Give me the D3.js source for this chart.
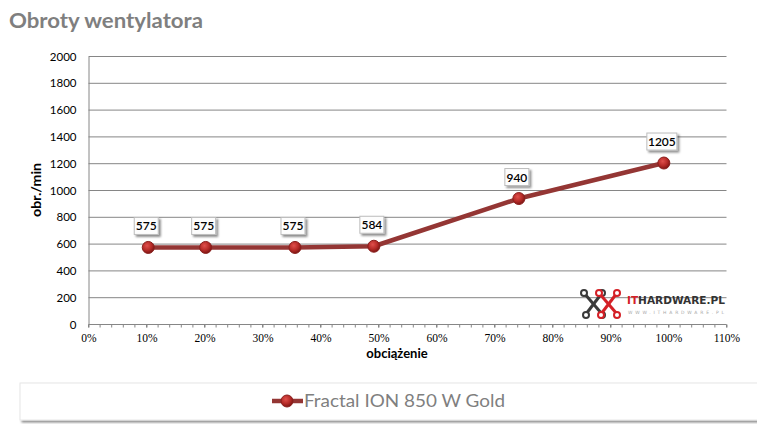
<!DOCTYPE html>
<html lang="pl">
<head>
<meta charset="UTF-8">
<title>Obroty wentylatora</title>
<script src="https://d3js.org/d3.v7.min.js"></script>
<style>
  body { margin: 0; background: #fff; }
</style>
</head>
<body>
<div id="chart"></div>
<script>
// load points (% obciążenia) and fan speed (obr./min)
var loadPct = [10.3, 20.2, 35.6, 49.2, 74.2, 99.2];
var rpm = [575, 575, 575, 584, 940, 1205];
var yTicks = [0, 200, 400, 600, 800, 1000, 1200, 1400, 1600, 1800, 2000];
var xTicks = [0, 10, 20, 30, 40, 50, 60, 70, 80, 90, 100, 110];
var xMinor = d3.range(0, 111, 2);
var seriesName = "Fractal ION 850 W Gold";

var W = 757, H = 424;
var font = "Lato, 'Open Sans', sans-serif";

var svg = d3.select("#chart").append("svg")
    .attr("width", W)
    .attr("height", H);

var defs = svg.append("defs");
var grad = defs.append("radialGradient").attr("id", "dot")
    .attr("cx", "40%").attr("cy", "35%").attr("r", "65%");
grad.append("stop").attr("offset", "0%").attr("stop-color", "#e0504c");
grad.append("stop").attr("offset", "60%").attr("stop-color", "#b52a27");
grad.append("stop").attr("offset", "100%").attr("stop-color", "#7d1614");

var shadow = defs.append("filter").attr("id", "shadow")
    .attr("x", "-30%").attr("y", "-30%").attr("width", "170%").attr("height", "170%");
shadow.append("feDropShadow").attr("dx", 2).attr("dy", 2)
    .attr("stdDeviation", 1.2).attr("flood-color", "#000").attr("flood-opacity", 0.45);

var x = d3.scaleLinear().domain([0, 110]).range([88.5, 726.5]);
var y = d3.scaleLinear().domain([0, 2000]).range([324.5, 56.5]);

// title
svg.append("text")
    .attr("x", 9).attr("y", 28)
    .attr("font-family", font).attr("font-weight", "bold")
    .attr("font-size", "21.5px").attr("fill", "#7f7f7f")
    .attr("textLength", 194).attr("lengthAdjust", "spacingAndGlyphs")
    .text("Obroty wentylatora");

// gridlines
svg.append("g").selectAll("line")
    .data(yTicks.filter(function(d){ return d > 0; }))
    .enter().append("line")
    .attr("x1", x(0)).attr("x2", x(110))
    .attr("y1", function(d){ return y(d); })
    .attr("y2", function(d){ return y(d); })
    .attr("stroke", "#868686");

// y axis
var yAxis = svg.append("g")
    .attr("transform", "translate(" + x(0) + ",0)")
    .call(d3.axisLeft(y).tickValues(yTicks).tickSize(0).tickPadding(12).tickFormat(d3.format("d")));
yAxis.select(".domain").attr("stroke", "#868686");
yAxis.selectAll("text")
    .attr("font-family", font).attr("font-size", "11.5px").attr("fill", "#000");

// x axis minor ticks
svg.append("g").selectAll("line")
    .data(xMinor).enter().append("line")
    .attr("x1", function(d){ return x(d); })
    .attr("x2", function(d){ return x(d); })
    .attr("y1", y(0)).attr("y2", y(0) + 3)
    .attr("stroke", "#868686");

var xAxis = svg.append("g")
    .attr("transform", "translate(0," + y(0) + ")")
    .call(d3.axisBottom(x).tickValues(xTicks).tickSize(3).tickPadding(6)
        .tickFormat(function(d){ return d + "%"; }));
xAxis.select(".domain").attr("stroke", "#868686").attr("d", "M" + x(0) + ",0H" + x(110));
xAxis.selectAll(".tick line").attr("stroke", "#868686");
xAxis.selectAll("text")
    .attr("font-family", "'Liberation Serif', serif").attr("font-size", "11.5px").attr("fill", "#000");

// axis titles
svg.append("text")
    .attr("transform", "translate(41,190) rotate(-90)")
    .attr("text-anchor", "middle")
    .attr("font-family", font).attr("font-weight", "bold").attr("font-size", "14px")
    .attr("textLength", 54).attr("lengthAdjust", "spacingAndGlyphs")
    .text("obr./min");

svg.append("text")
    .attr("x", 397).attr("y", 358)
    .attr("text-anchor", "middle")
    .attr("font-family", font).attr("font-weight", "bold").attr("font-size", "13px")
    .text("obciążenie");

// logo (watermark)
var logo = svg.append("g").attr("transform", "translate(580,289)");
function linkX(g, color, dx) {
    g.append("line").attr("x1", dx + 4).attr("y1", 4).attr("x2", dx + 22).attr("y2", 25)
        .attr("stroke", color).attr("stroke-width", 3);
    g.append("line").attr("x1", dx + 22).attr("y1", 4).attr("x2", dx + 6).attr("y2", 25)
        .attr("stroke", color).attr("stroke-width", 3);
    g.selectAll(null).data([[4, 4], [22, 4], [6, 26], [22, 26]]).enter().append("circle")
        .attr("cx", function(d){ return dx + d[0]; }).attr("cy", function(d){ return d[1]; })
        .attr("r", 3).attr("fill", "#fff").attr("stroke", color).attr("stroke-width", 2);
}
linkX(logo, "#3a3a3a", 0);
linkX(logo, "#d42026", 15);
logo.append("text").attr("x", 47).attr("y", 15)
    .attr("font-family", "'DejaVu Sans', sans-serif").attr("font-weight", "bold")
    .attr("font-size", "10px").attr("textLength", 98).attr("lengthAdjust", "spacingAndGlyphs")
    .html('<tspan fill="#d42026">IT</tspan><tspan fill="#333">HARDWARE.PL</tspan>');
logo.append("text").attr("x", 48).attr("y", 25)
    .attr("font-family", "'DejaVu Sans', sans-serif")
    .attr("font-size", "4.5px").attr("fill", "#aaa")
    .attr("textLength", 96).attr("lengthAdjust", "spacing")
    .text("WWW.ITHARDWARE.PL");

// series line
var pts = loadPct.map(function(d, i){ return [d, rpm[i]]; });
var line = d3.line().x(function(d){ return x(d[0]); }).y(function(d){ return y(d[1]); });
svg.append("path")
    .datum(pts)
    .attr("d", line)
    .attr("fill", "none")
    .attr("stroke", "#943634")
    .attr("stroke-width", 4.5)
    .attr("stroke-linejoin", "round");

svg.append("g").selectAll("circle")
    .data(pts).enter().append("circle")
    .attr("cx", function(d){ return x(d[0]); })
    .attr("cy", function(d){ return y(d[1]); })
    .attr("r", 6)
    .attr("fill", "url(#dot)")
    .attr("stroke", "#8a1f1d").attr("stroke-width", 1);

// data labels
var lab = svg.append("g").selectAll("g")
    .data(pts).enter().append("g")
    .attr("transform", function(d){ return "translate(" + (x(d[0]) - 2) + "," + (y(d[1]) - 21) + ")"; });
lab.append("rect")
    .attr("x", function(d){ return d[1] >= 1000 ? -15 : -12; })
    .attr("y", -9)
    .attr("width", function(d){ return d[1] >= 1000 ? 30 : 24; })
    .attr("height", 17)
    .attr("fill", "#fdfdfd")
    .attr("stroke", "#bdbdbd")
    .attr("filter", "url(#shadow)");
lab.append("text")
    .attr("text-anchor", "middle")
    .attr("y", 4)
    .attr("font-family", font).attr("font-size", "12px").attr("font-weight", 600).attr("fill", "#000")
    .text(function(d){ return d[1]; });

// legend
var leg = svg.append("g");
leg.append("rect")
    .attr("x", 20).attr("y", 383).attr("width", 760).attr("height", 37)
    .attr("fill", "#fff").attr("stroke", "#e6e6e6")
    .attr("filter", "url(#shadow)");
leg.append("line")
    .attr("x1", 272).attr("x2", 303).attr("y1", 401).attr("y2", 401)
    .attr("stroke", "#943634").attr("stroke-width", 4.5);
leg.append("circle")
    .attr("cx", 287).attr("cy", 401).attr("r", 6)
    .attr("fill", "url(#dot)").attr("stroke", "#8a1f1d");
leg.append("text")
    .attr("x", 304).attr("y", 407)
    .attr("font-family", font).attr("font-size", "18px").attr("fill", "#7f7f7f")
    .attr("textLength", 201).attr("lengthAdjust", "spacingAndGlyphs")
    .text(seriesName);
</script>
</body>
</html>
